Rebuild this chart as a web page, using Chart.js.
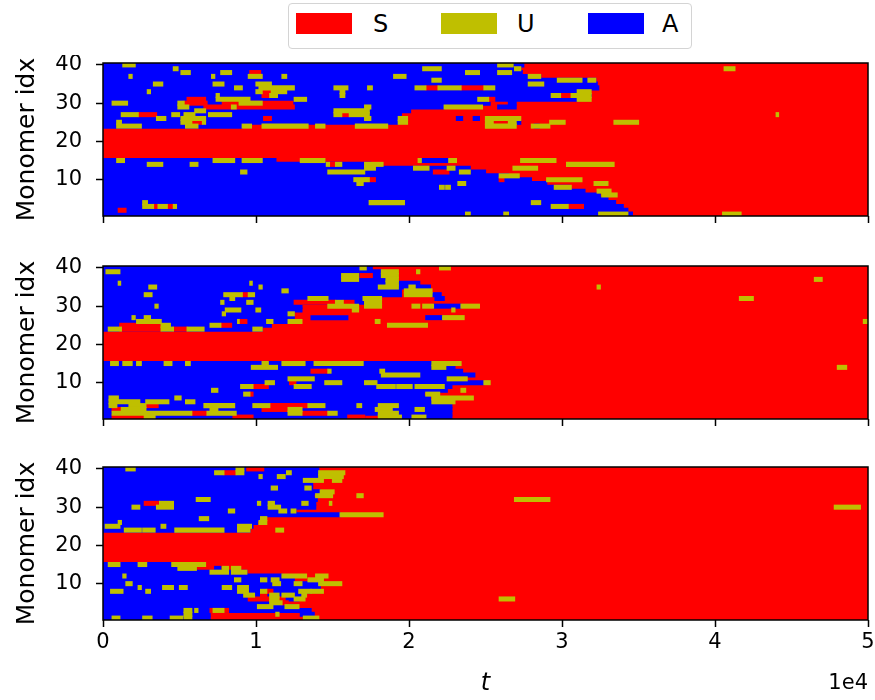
<!DOCTYPE html>
<html>
<head>
<meta charset="utf-8">
<script src="https://cdn.jsdelivr.net/npm/chart.js@4.4.1/dist/chart.umd.min.js"></script>
<style>
  body { margin: 0; background: #fff; font-family: "DejaVu Sans", sans-serif; }
  #page { position: relative; width: 875px; height: 700px; overflow: hidden; }
  #page canvas { position: absolute; left: 0; }
  #legend { position: absolute; left: 288px; top: 3px; width: 404px; height: 46px; box-sizing: border-box;
            border: 1px solid #d4d4d4; border-radius: 4px; }
  .sw { position: absolute; top: 9px; width: 56px; height: 21px; }
  .lb { position: absolute; top: 5px; font-size: 24px; line-height: 30px; color: #000; }
</style>
</head>
<body>
<div id="page">
  <div id="legend">
    <div class="sw" style="left:7px;background:#ff0000"></div><div class="lb" style="left:84px">S</div>
    <div class="sw" style="left:152px;background:#bfbf00"></div><div class="lb" style="left:228px">U</div>
    <div class="sw" style="left:299px;background:#0000ff"></div><div class="lb" style="left:373px">A</div>
  </div>
  <canvas id="panel1" width="875" height="185" style="top:55px"></canvas>
  <canvas id="panel2" width="875" height="185" style="top:255px"></canvas>
  <canvas id="panel3" width="875" height="260" style="top:440px"></canvas>
</div>
<script>
// Data (time in units of 1e3, rows = monomer index)
//==============================
var rows = [1, 2, 3, 4, 5, 6, 7, 8, 9, 10, 11, 12, 13, 14, 15, 16, 17, 18, 19, 20,
  21, 22, 23, 24, 25, 26, 27, 28, 29, 30, 31, 32, 33, 34, 35, 36, 37, 38, 39, 40];
var timeSpan = [0, 50];
var xTicks = [0, 10, 20, 30, 40, 50];
var xTickLabels = ["0", "1", "2", "3", "4", "5"];
var xOffsetText = "1e4";
var yTicks = [10, 20, 30, 40];
var stateLabels = ["S", "U", "A"];
var stateColors = { S: "#ff0000", U: "#bfbf00", A: "#0000ff" };

// time at which each row stops being A (null = S from the start)
var p1BlueEnd = [34.6, 34.3, 34.0, 33.5, 33.0, 32.5, 31.5, 30.5, 29.0, 28.0,
  26.5, 25.0, 24.0, 17.5, 11.3, null, null, null, null, null,
  null, null, null, 9.1, 19.3, 19.5, 19.5, 20.1, 22.3, 25.3,
  31.0, 31.9, 31.3, 32.4, 32.3, 32.2, 28.6, 27.4, 27.3, 27.5];
var p1Blue = [[30, 26.5, 27.0], [29, 25.8, 27.0], [26, 23.1, 23.5], [26, 24.2, 24.6], [25, 27.0, 27.3],
  [24, 28.2, 28.5], [15, 20.8, 22.6]];
var p1Red = [[38, 9.6, 10.3], [34, 21.1, 21.9], [34, 23.4, 24.9], [33, 10.4, 11.0], [32, 10.4, 10.9],
  [32, 29.9, 30.6], [31, 5.5, 6.7], [30, 5.3, 6.8], [30, 7.8, 12.4], [29, 6.6, 12.5], [31, 25.2, 25.6],
  [27, 2.3, 3.5], [27, 15.6, 16.1], [26, 10.5, 11.0], [25, 5.8, 6.5], [25, 25.5, 26.5], [14, 14.8, 15.2],
  [3, 3.3, 3.6], [3, 4.2, 4.6], [2, 1.0, 1.5], [12, 21.6, 22.6], [10, 17.1, 17.8], [10, 25.9, 26.2],
  [3, 30.4, 31.4]];
var p1Yellow = [[40, 1.3, 2.1], [39, 4.6, 4.9], [38, 5.1, 5.7], [38, 7.7, 8.4], [37, 9.5, 10.4],
  [37, 1.7, 1.9], [37, 7.1, 7.3], [37, 11.7, 12.0], [35, 3.3, 3.9], [35, 7.2, 7.9], [34, 8.6, 9.1],
  [35, 10.0, 11.0], [34, 10.2, 12.5], [33, 10.0, 10.4], [33, 11.0, 12.0], [32, 10.9, 11.4],
  [34, 15.1, 16.0], [33, 15.5, 15.8], [32, 15.5, 15.8], [33, 2.9, 3.1], [31, 12.5, 13.3],
  [31, 7.4, 9.6], [32, 7.4, 7.6], [30, 8.9, 10.4], [30, 4.9, 5.3], [29, 4.9, 5.6], [28, 6.0, 6.7],
  [29, 8.4, 8.7], [30, 0.6, 1.6], [28, 15.1, 17.4], [27, 15.1, 15.6], [27, 16.1, 17.4],
  [27, 1.2, 2.3], [27, 4.5, 5.0], [27, 5.3, 6.0], [27, 6.9, 8.4], [26, 3.5, 4.1], [26, 5.1, 6.7],
  [25, 5.1, 5.8], [25, 6.5, 6.7], [24, 5.4, 6.2], [24, 0.9, 2.5], [25, 0.9, 1.2], [24, 9.1, 9.7],
  [24, 10.4, 13.4], [24, 13.9, 14.5], [24, 16.5, 18.6],
  [39, 20.9, 22.1], [40, 25.8, 26.8], [39, 26.9, 27.3], [38, 23.7, 24.6], [38, 25.8, 26.7],
  [37, 19.0, 19.8], [37, 27.8, 28.6], [35, 27.8, 28.8], [36, 21.5, 22.1], [36, 29.7, 31.3],
  [36, 31.7, 32.2], [34, 20.4, 21.1], [34, 21.9, 23.4], [34, 24.9, 25.6], [34, 17.3, 17.6],
  [33, 31.0, 31.9], [32, 31.0, 31.9], [31, 31.0, 31.9], [32, 29.3, 29.9], [32, 30.6, 31.0],
  [31, 24.5, 25.2], [29, 22.3, 24.8], [29, 17.1, 17.5], [26, 25.0, 27.3], [25, 25.0, 25.5],
  [25, 26.5, 27.0], [24, 25.0, 27.0], [24, 28.0, 29.2], [25, 29.2, 30.2], [25, 33.4, 35.0],
  [26, 19.3, 19.9], [25, 19.3, 19.9], [26, 17.1, 17.5],
  [15, 0.9, 1.4], [14, 2.9, 3.9], [14, 5.7, 6.2], [15, 7.2, 8.6], [15, 9.1, 10.4], [15, 12.9, 14.5],
  [14, 14.6, 14.8], [14, 15.2, 15.6], [12, 14.7, 17.1], [10, 16.4, 17.4], [9, 16.6, 17.0],
  [12, 9.0, 9.4], [3, 2.6, 3.3], [3, 3.6, 4.2], [3, 4.6, 4.8], [4, 2.6, 2.9],
  [15, 20.6, 20.8], [15, 22.6, 23.1], [15, 27.3, 29.6], [14, 17.1, 18.3], [13, 17.1, 17.8],
  [14, 30.3, 33.4], [13, 20.3, 21.3], [13, 22.5, 23.0], [12, 23.3, 24.0], [13, 26.8, 28.4],
  [11, 25.9, 27.2], [10, 29.0, 31.3], [8, 29.5, 30.6], [9, 23.2, 23.7], [8, 22.0, 22.3],
  [8, 22.4, 22.7], [9, 32.1, 33.0], [7, 32.3, 33.2], [6, 32.6, 33.6], [4, 17.4, 19.7],
  [4, 28.0, 28.6], [3, 29.3, 30.4], [1, 23.7, 24.0], [1, 26.2, 26.5], [1, 32.4, 34.3],
  [39, 40.6, 41.3], [27, 44.0, 44.15], [1, 40.5, 41.7]];

var p2BlueEnd = [17.1, 22.8, 22.8, 22.8, 21.5, 21.4, 21.0, 22.5, 22.8, 24.9,
  22.5, 24.3, 23.5, 23.0, 21.5, null, null, null, null, null,
  null, null, null, 10.4, 11.0, 12.1, 12.5, 12.5, 13.0, 13.0,
  17.1, 17.0, 19.5, 19.5, 21.4, 20.7, 18.5, 18.2, 18.2, 17.6];
var p2Blue = [[27, 13.6, 16.0], [27, 21.1, 22.2], [30, 21.6, 23.4], [33, 21.5, 22.1], [32, 21.7, 22.3],
  [1, 19.5, 20.2], [1, 21.1, 22.8]];
var p2Red = [[24, 1.1, 3.8], [25, 1.1, 3.8], [24, 4.6, 5.5], [33, 9.1, 9.5], [26, 8.9, 9.4],
  [25, 7.7, 8.4], [31, 12.5, 15.2], [31, 15.7, 16.4], [38, 16.8, 17.6], [13, 13.6, 14.7],
  [10, 12.2, 12.6], [9, 9.8, 10.8], [7, 9.6, 9.8], [4, 2.8, 3.6], [3, 0.6, 1.2], [2, 5.8, 6.8],
  [1, 0.6, 2.7], [1, 8.5, 9.8], [3, 10.4, 12.1], [4, 10.9, 13.4], [2, 13.0, 14.7], [1, 16.0, 17.1]];
var p2Yellow = [[39, 0.2, 1.1], [36, 1.0, 1.15], [35, 3.0, 3.5], [33, 2.7, 3.2], [30, 3.4, 3.6],
  [36, 9.6, 9.75], [35, 10.2, 10.4], [34, 11.7, 12.1], [33, 7.9, 9.1], [33, 9.5, 9.9], [32, 8.3, 8.6],
  [31, 7.7, 7.9], [31, 9.4, 9.8], [29, 8.0, 9.0], [29, 10.0, 10.3], [28, 7.8, 8.0], [26, 10.7, 11.1],
  [26, 8.8, 8.9], [25, 7.0, 7.7], [24, 9.8, 10.4], [32, 13.4, 14.7], [31, 15.2, 15.7],
  [30, 14.7, 16.7], [29, 16.3, 16.7], [28, 12.1, 12.5], [26, 12.1, 13.0], [26, 2.2, 3.8],
  [24, 0.35, 1.2], [24, 3.8, 4.6], [24, 5.5, 6.6], [25, 3.8, 4.4], [27, 1.9, 2.1], [27, 2.7, 3.1],
  [15, 0.5, 1.0], [15, 1.3, 1.9], [15, 2.2, 2.5], [15, 4.0, 4.5], [15, 5.4, 5.7], [14, 9.7, 11.4],
  [15, 10.4, 10.8], [15, 11.7, 13.2], [15, 13.8, 17.0], [13, 14.7, 14.9], [11, 12.1, 13.8],
  [9, 12.5, 13.6], [10, 14.5, 15.6], [9, 9.0, 9.8], [10, 10.6, 11.2], [8, 7.1, 7.5], [7, 9.2, 9.6],
  [6, 4.7, 5.1], [5, 5.4, 6.0], [6, 0.4, 1.0], [5, 0.4, 2.4], [5, 2.8, 4.3], [4, 0.4, 0.9],
  [4, 1.7, 2.8], [3, 1.2, 2.8], [2, 0.6, 5.8], [1, 2.7, 3.4], [4, 6.6, 8.6], [3, 7.0, 7.5],
  [2, 6.8, 8.7], [4, 9.8, 10.9], [2, 12.1, 13.0], [3, 12.1, 13.0], [4, 13.4, 14.5], [2, 14.7, 15.3],
  [4, 16.6, 16.9], [40, 16.8, 17.2], [38, 15.6, 16.7], [37, 15.6, 16.7],
  [40, 22.0, 22.7], [39, 18.2, 19.3], [38, 18.2, 19.3], [39, 20.5, 20.7], [37, 18.5, 19.3],
  [36, 18.5, 19.3], [35, 18.0, 19.3], [35, 20.0, 20.4], [34, 19.7, 21.5], [33, 19.7, 21.5],
  [32, 17.0, 18.2], [31, 17.1, 18.2], [30, 17.1, 18.2], [30, 20.2, 20.7], [30, 20.9, 21.6],
  [30, 23.4, 24.6], [29, 22.8, 23.0], [27, 22.2, 23.6], [26, 17.8, 18.1], [25, 18.6, 21.2],
  [15, 21.5, 23.4], [14, 21.5, 22.4], [13, 18.1, 18.4], [12, 18.2, 20.7], [11, 22.5, 23.8],
  [10, 24.9, 25.3], [10, 17.1, 17.9], [9, 17.9, 19.1], [9, 19.2, 20.2], [9, 20.4, 22.3],
  [8, 23.4, 23.7], [7, 21.1, 22.0], [6, 21.5, 24.2], [5, 21.5, 23.0], [4, 18.0, 19.3],
  [3, 17.8, 18.9], [3, 20.4, 21.0], [2, 18.0, 19.3], [1, 18.0, 19.5], [1, 20.2, 21.1],
  [35, 32.3, 32.5], [37, 46.5, 47.0], [32, 41.6, 42.5], [26, 49.7, 50.0], [14, 48.0, 48.6]];

var p3BlueEnd = [7.0, 7.0, 13.6, 12.5, 12.0, 12.8, 13.0, 13.6, 14.2, 14.1,
  12.5, 11.7, 9.4, 6.1, 4.5, null, null, null, null, null,
  null, null, null, 9.6, 9.8, 10.1, 10.4, 15.5, 12.6, 13.9,
  13.9, 14.0, 13.8, 14.2, 13.7, 13.7, 13.3, 14.1, 14.1, 14.1];
var p3Blue = [[14, 7.3, 7.7], [2, 12.9, 13.8]];
var p3Red = [[31, 2.7, 3.7], [39, 7.9, 8.7], [40, 9.4, 10.5], [8, 10.7, 11.1], [7, 10.3, 10.7],
  [6, 9.5, 11.9], [5, 11.7, 12.1], [3, 7.0, 8.2]];
var p3Yellow = [[40, 1.5, 2.1], [39, 7.3, 7.9], [40, 8.7, 9.2], [39, 8.7, 9.2], [38, 10.2, 10.4],
  [38, 11.4, 11.9], [39, 12.0, 12.3], [37, 13.1, 14.4], [37, 15.0, 15.6], [39, 14.1, 15.8],
  [38, 14.1, 15.7], [35, 11.0, 11.4], [35, 13.2, 13.6], [34, 14.2, 15.1], [33, 13.9, 15.0],
  [33, 16.6, 17.0], [31, 13.0, 13.4], [31, 14.8, 14.95], [31, 3.7, 4.6], [30, 3.5, 4.6],
  [30, 1.9, 2.4], [31, 10.1, 10.3], [30, 10.8, 11.6], [31, 10.8, 11.2], [29, 11.5, 12.0],
  [29, 12.3, 12.6], [28, 15.5, 18.3], [27, 10.3, 10.7], [26, 10.2, 10.7], [25, 0.15, 1.1],
  [26, 1.0, 1.2], [24, 1.4, 2.5], [24, 2.6, 3.4], [25, 3.8, 4.1], [24, 4.7, 7.9], [24, 11.3, 11.8],
  [25, 8.8, 9.7], [24, 8.8, 9.6], [32, 6.1, 7.0], [29, 8.2, 8.6], [27, 6.3, 6.9], [32, 26.9, 29.2],
  [30, 47.8, 49.5],
  [15, 0.35, 1.1], [15, 2.3, 2.85], [15, 4.5, 6.7], [14, 4.9, 6.1], [14, 7.8, 8.2], [13, 7.0, 8.2],
  [13, 8.4, 9.4], [14, 8.4, 9.0], [12, 11.7, 13.3], [12, 13.9, 14.7], [12, 1.3, 1.5], [11, 8.6, 9.0],
  [11, 10.3, 10.7], [11, 11.0, 11.5], [11, 13.4, 14.4], [10, 11.1, 11.6], [10, 12.5, 13.0],
  [10, 14.1, 15.6], [10, 1.5, 1.9], [9, 2.3, 2.5], [8, 0.5, 1.3], [8, 2.8, 3.1], [9, 3.9, 4.6],
  [9, 5.0, 5.5], [9, 7.8, 8.4], [9, 8.8, 9.5], [8, 8.8, 9.5], [8, 10.3, 10.7], [8, 12.8, 13.6],
  [8, 13.6, 14.4], [7, 9.2, 9.9], [7, 10.9, 11.5], [6, 10.9, 11.5], [5, 10.9, 11.7],
  [7, 11.7, 12.5], [7, 13.0, 13.3], [6, 12.5, 13.2], [4, 10.1, 11.1], [4, 11.9, 12.8],
  [3, 7.2, 7.9], [3, 6.0, 6.2], [2, 5.3, 5.8], [3, 5.3, 5.8], [1, 0.6, 1.1], [1, 2.6, 3.2],
  [1, 4.4, 5.2], [1, 5.3, 5.8], [2, 11.3, 11.5], [1, 13.1, 14.1], [6, 25.9, 26.9]];

// Chart helpers
//==============================
var fontFamily = "'DejaVu Sans', sans-serif";

var framePlugin = {
  id: "frame",
  afterDraw: function (chart) {
    var a = chart.chartArea;
    var ctx = chart.ctx;
    ctx.save();
    ctx.strokeStyle = "#000";
    ctx.lineWidth = 1.5;
    ctx.strokeRect(a.left, a.top, a.right - a.left, a.bottom - a.top);
    ctx.restore();
  }
};

var offsetTextPlugin = {
  id: "offsetText",
  afterDraw: function (chart) {
    var a = chart.chartArea;
    var ctx = chart.ctx;
    ctx.save();
    ctx.fillStyle = "#000";
    ctx.font = "21px " + fontFamily;
    ctx.textAlign = "right";
    ctx.textBaseline = "middle";
    ctx.fillText(xOffsetText, a.right, a.bottom + 64);
    ctx.restore();
  }
};

function toBars(list) {
  return list.map(function (s) {
    return { x: [s[1], s[2]], y: s[0] };
  });
}

function makePanel(id, blueEnd, bluePatch, redPatch, yellow, padTop, axisHeight, bottom) {
  var full = rows.map(function (r) {
    return { x: timeSpan, y: r };
  });
  var blue = [];
  rows.forEach(function (r, i) {
    if (blueEnd[i] !== null) {
      blue.push({ x: [timeSpan[0], blueEnd[i]], y: r });
    }
  });
  var common = { grouped: false, barPercentage: 1, categoryPercentage: 1, borderWidth: 0, inflateAmount: 0.6 };
  var datasets = [
    Object.assign({ label: stateLabels[0], data: full, backgroundColor: stateColors.S, order: 4 }, common),
    Object.assign({ label: stateLabels[2], data: blue, backgroundColor: stateColors.A, order: 3 }, common),
    Object.assign({ label: stateLabels[2], data: toBars(bluePatch), backgroundColor: stateColors.A, order: 2 }, common),
    Object.assign({ label: stateLabels[0], data: toBars(redPatch), backgroundColor: stateColors.S, order: 1 }, common),
    Object.assign({ label: stateLabels[1], data: toBars(yellow), backgroundColor: stateColors.U, order: 0 }, common)
  ];

  var plugins = [framePlugin];
  if (bottom) plugins.push(offsetTextPlugin);

  return new Chart(document.getElementById(id), {
    type: "bar",
    data: { datasets: datasets },
    options: {
      indexAxis: "y",
      responsive: false,
      animation: false,
      layout: { padding: { top: padTop, right: 7, bottom: 0, left: 0 } },
      plugins: { legend: { display: false }, tooltip: { enabled: false } },
      scales: {
        x: {
          type: "linear",
          min: timeSpan[0],
          max: timeSpan[1],
          offset: false,
          afterBuildTicks: function (axis) {
            axis.ticks = xTicks.map(function (v) { return { value: v }; });
          },
          afterFit: function (axis) {
            axis.height = axisHeight;
            axis.paddingLeft = 0;
            axis.paddingRight = 0;
          },
          grid: { display: true, offset: false, drawOnChartArea: false, drawTicks: true, tickLength: 7, tickColor: "#000", tickWidth: 1.5 },
          border: { display: false },
          ticks: {
            display: bottom,
            color: "#000",
            padding: 3,
            maxRotation: 0,
            autoSkip: false,
            font: { family: fontFamily, size: 21 },
            callback: function (v, i) { return xTickLabels[i]; }
          },
          title: {
            display: bottom,
            text: "t",
            color: "#000",
            padding: { top: 0, bottom: 2 },
            font: { family: fontFamily, size: 24, style: "italic" }
          }
        },
        y: {
          type: "linear",
          min: 0.5,
          max: 40.5,
          offset: false,
          afterBuildTicks: function (axis) {
            axis.ticks = yTicks.map(function (v) { return { value: v }; });
          },
          afterFit: function (axis) {
            axis.width = 103;
            axis.paddingTop = 0;
            axis.paddingBottom = 0;
          },
          grid: { display: true, offset: false, drawOnChartArea: false, drawTicks: true, tickLength: 7, tickColor: "#000", tickWidth: 1.5 },
          border: { display: false },
          ticks: { color: "#000", padding: 14, font: { family: fontFamily, size: 21 } },
          title: {
            display: true,
            text: "Monomer idx",
            color: "#000",
            padding: { top: 12, bottom: 0 },
            font: { family: fontFamily, size: 25 }
          }
        }
      }
    },
    plugins: plugins
  });
}

// Panels
//==============================
var panel1 = makePanel("panel1", p1BlueEnd, p1Blue, p1Red, p1Yellow, 8, 24, false);
var panel2 = makePanel("panel2", p2BlueEnd, p2Blue, p2Red, p2Yellow, 11, 21, false);
var panel3 = makePanel("panel3", p3BlueEnd, p3Blue, p3Red, p3Yellow, 27, 80, true);
</script>
</body>
</html>
